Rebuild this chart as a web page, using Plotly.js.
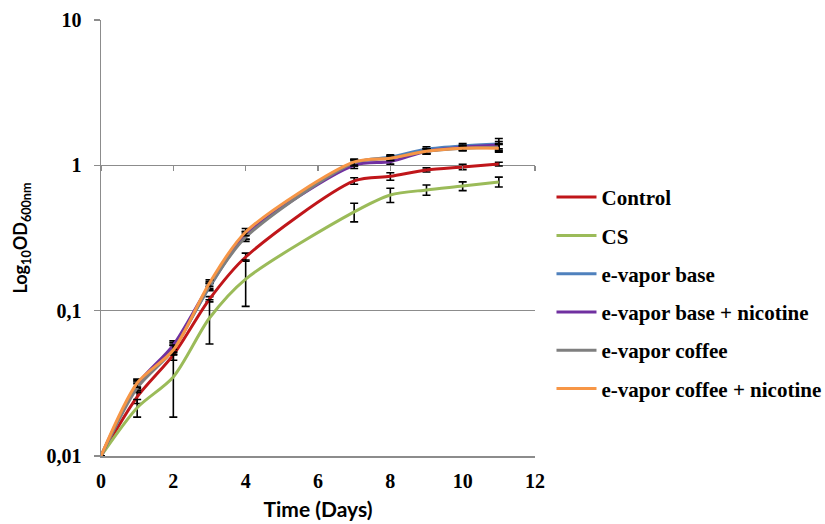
<!DOCTYPE html>
<html>
<head>
<meta charset="utf-8">
<script src="https://cdn.plot.ly/plotly-3.0.1.min.js"></script>
<style>html,body{margin:0;padding:0;background:#fff}#chart{width:825px;height:524px}</style>
</head>
<body>
<div id="chart"></div>
<script>
var days = [0, 1, 2, 3, 4, 7, 8, 9, 10, 11];
var seriesNames = ["Control", "CS", "e-vapor base", "e-vapor base + nicotine", "e-vapor coffee", "e-vapor coffee + nicotine"];
var seriesColors = ["#C0161A", "#9BBB59", "#4F81BD", "#7030A0", "#7F7F7F", "#F79646"];

var control = [0.01, 0.0255, 0.0496, 0.120, 0.234, 0.781, 0.840, 0.930, 0.975, 1.02];
var cs      = [0.01, 0.0215, 0.0350, 0.089, 0.165, 0.478, 0.625, 0.677, 0.720, 0.769];
var base    = [0.01, 0.0303, 0.0560, 0.145, 0.330, 1.04, 1.14, 1.29, 1.36, 1.40];
var baseNic = [0.01, 0.0310, 0.0580, 0.150, 0.330, 1.00, 1.06, 1.25, 1.33, 1.38];
var coffee  = [0.01, 0.0294, 0.0540, 0.147, 0.320, 1.04, 1.12, 1.25, 1.31, 1.33];
var coffeeNic = [0.01, 0.0318, 0.0536, 0.155, 0.348, 1.055, 1.12, 1.25, 1.31, 1.31];

var controlErr = [0, 0.0025, 0.004, 0.005, 0.015, 0.04, 0.05, 0.03, 0.04, 0.03];
var csErr      = [0, 0.003, 0.0165, 0.030, 0.058, 0.07, 0.07, 0.055, 0.05, 0.06];
var baseErr    = [0, 0.002, 0.004, 0.008, 0.02, 0.05, 0.04, 0.05, 0.05, 0.13];
var baseNicErr = [0, 0.002, 0.004, 0.008, 0.02, 0.05, 0.04, 0.05, 0.05, 0.08];
var coffeeErr  = [0, 0.002, 0.004, 0.008, 0.02, 0.05, 0.04, 0.05, 0.05, 0.08];
var coffeeNicErr = [0, 0.002, 0.004, 0.008, 0.02, 0.05, 0.04, 0.05, 0.05, 0.08];

var yTickVals = [0.01, 0.1, 1, 10];
var yTickText = ["0,01", "0,1", "1", "10"];
var xTickVals = [0, 2, 4, 6, 8, 10, 12];

var allY = [control, cs, base, baseNic, coffee, coffeeNic];
var allErr = [controlErr, csErr, baseErr, baseNicErr, coffeeErr, coffeeNicErr];

var traces = allY.map(function (ys, i) {
  return {
    x: days, y: ys, name: seriesNames[i], type: 'scatter', mode: 'lines',
    line: {color: seriesColors[i], width: 3, shape: 'spline', smoothing: 0.8},
    error_y: {type: 'data', array: allErr[i], visible: true, color: '#000', thickness: 1.6, width: 4},
    legendgroup: 'g' + i
  };
});
// invisible trace to carry the secondary x axis drawn at y = 1 (Excel crossing)
traces.push({x: [days[0]], y: [1], xaxis: 'x2', yaxis: 'y', mode: 'markers', marker: {opacity: 0}, showlegend: false, hoverinfo: 'skip'});

var serif = '"Liberation Serif"';
var sans = 'Lato';
var layout = {
  width: 825, height: 524,
  margin: {l: 101, r: 290, t: 20, b: 68, autoexpand: false},
  paper_bgcolor: '#fff', plot_bgcolor: '#fff',
  showlegend: true,
  legend: {
    x: 1.038, xanchor: 'left', y: 0.374, yanchor: 'middle',
    font: {family: serif, size: 21, color: '#000', weight: 'bold'},
    tracegroupgap: 8, itemwidth: 40
  },
  xaxis: {
    range: [0, 12], tickvals: xTickVals, ticks: 'outside', ticklen: 6, tickcolor: 'rgba(0,0,0,0)',
    showgrid: false, showline: true, linecolor: '#8c8c8c', linewidth: 1.5, zeroline: false,
    tickfont: {family: serif, size: 20, color: '#000', weight: 'bold'},
    title: {text: 'Time (Days)', font: {family: sans, size: 21, color: '#000', weight: 'bold'}, standoff: 12}
  },
  xaxis2: {
    range: [0, 12], overlaying: 'x', anchor: 'free', position: 2/3, side: 'bottom',
    tickvals: xTickVals, ticks: 'outside', ticklen: 5, tickcolor: '#8c8c8c', tickwidth: 1.5,
    showticklabels: false, showgrid: false, showline: false, zeroline: false
  },
  yaxis: {
    type: 'log', range: [-2, 1], tickvals: yTickVals, ticktext: yTickText,
    ticks: 'outside', ticklen: 6, tickcolor: '#8c8c8c', tickwidth: 1.5,
    showgrid: true, gridcolor: '#8c8c8c', gridwidth: 1.5,
    showline: true, linecolor: '#8c8c8c', linewidth: 1.5,
    ticklabelstandoff: 8,
    tickfont: {family: serif, size: 20, color: '#000', weight: 'bold'},
    title: {text: 'Log<sub>10</sub>OD<sub>600nm</sub>', font: {family: sans, size: 18, color: '#000', weight: 'bold'}, standoff: 14}
  }
};

Plotly.newPlot('chart', traces, layout, {displayModeBar: false, staticPlot: true});
</script>
</body>
</html>
